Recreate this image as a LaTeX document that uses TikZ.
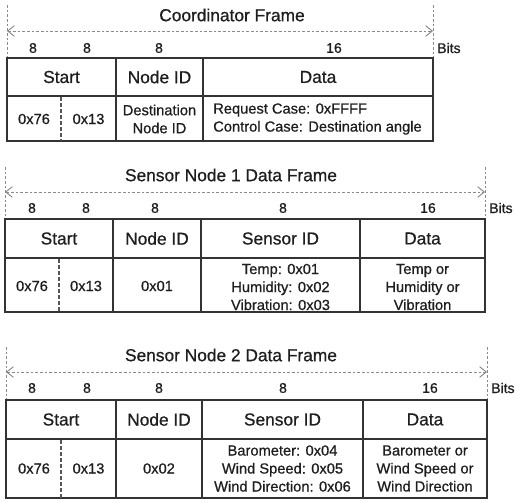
\documentclass[tikz,border=0pt]{standalone}
\usepackage{fontspec}
\setmainfont{Liberation Sans}[RawFeature={embolden=0.7}]
\usetikzlibrary{arrows.meta}
\definecolor{ln}{HTML}{333333}
\definecolor{tx}{HTML}{1E1E1E}
\definecolor{dsh}{HTML}{8A8A8A}
\definecolor{sep}{HTML}{555555}
\begin{document}
\begin{tikzpicture}[x=0.75pt,y=-0.75pt,
 cell/.style={draw=ln, line width=1.3pt},
 ttl/.style={font=\fontsize{13}{15}\selectfont, text=tx, inner sep=0},
 hdr/.style={font=\fontsize{13}{15}\selectfont, text=tx, inner sep=0},
 val/.style={font=\fontsize{11}{13.5}\selectfont, text=tx, align=center, inner sep=0},
 vall/.style={font=\fontsize{11}{13.5}\selectfont, text=tx, align=left, inner sep=0, anchor=west},
 bitn/.style={font=\fontsize{10.5}{12}\selectfont, text=tx, inner sep=0},
 bitl/.style={font=\fontsize{10.5}{12}\selectfont, text=tx, inner sep=0, anchor=west},
 guide/.style={draw=dsh, dash pattern=on 2pt off 1.5pt, line width=0.7pt},
 span/.style={guide, {Straight Barb[length=5pt,width=8pt]}-{Straight Barb[length=5pt,width=8pt]}},
 half/.style={draw=sep, dash pattern=on 3pt off 1.5pt, line width=1.1pt}]
\useasboundingbox (0,0) rectangle (515,503);

% ---------- Frame 1 ----------
\draw[guide] (7,5) -- (7,58);
\draw[guide] (433,5) -- (433,58);
\coordinate (f1l) at (7,31);
\coordinate (f1r) at (433,31);
\draw[span] (f1l) -- (f1r);
\node[ttl] (f1t) at (232,15) {Coordinator Frame};
\node[bitn] (f1b1) at (33,48) {8};
\node[bitn] (f1b2) at (87,48) {8};
\node[bitn] (f1b3) at (159,48) {8};
\node[bitn] (f1b4) at (334,48) {16};
\node[bitl] (f1bits) at (437,48) {Bits};
\draw[cell] (7,58) rectangle (433,141);
\draw[cell] (7,96) -- (433,96);
\draw[cell] (116,58) -- (116,141);
\draw[cell] (203,58) -- (203,141);
\draw[half] (61,97) -- (61,141);
\node[hdr] (f1h1) at (61.5,77) {Start};
\node[hdr] (f1h2) at (159.5,77) {Node ID};
\node[hdr] (f1h3) at (318,77) {Data};
\node[val] (f1v1) at (34,119) {0x76};
\node[val] (f1v2) at (88.5,119) {0x13};
\node[val] (f1v3) at (159.5,119) {Destination\\Node ID};
\node[vall] (f1v4) at (213,119) {Request Case: 0xFFFF\\Control Case: Destination angle};

% ---------- Frame 2 ----------
\draw[guide] (5,167) -- (5,219);
\draw[guide] (485,167) -- (485,219);
\coordinate (f2l) at (5,192);
\coordinate (f2r) at (485,192);
\draw[span] (f2l) -- (f2r);
\node[ttl] (f2t) at (231,175) {Sensor Node 1 Data Frame};
\node[bitn] (f2b1) at (32,208) {8};
\node[bitn] (f2b2) at (86,208) {8};
\node[bitn] (f2b3) at (155,208) {8};
\node[bitn] (f2b4) at (283,208) {8};
\node[bitn] (f2b5) at (428,208) {16};
\node[bitl] (f2bits) at (489,208) {Bits};
\draw[cell] (5,219) rectangle (485,312);
\draw[cell] (5,258) -- (485,258);
\draw[cell] (113,219) -- (113,312);
\draw[cell] (201,219) -- (201,312);
\draw[cell] (360,219) -- (360,312);
\draw[half] (59,259) -- (59,312);
\node[hdr] (f2h1) at (59,238.5) {Start};
\node[hdr] (f2h2) at (157,238.5) {Node ID};
\node[hdr] (f2h3) at (280.5,238.5) {Sensor ID};
\node[hdr] (f2h4) at (422.5,238.5) {Data};
\node[val] (f2v1) at (32,286) {0x76};
\node[val] (f2v2) at (86,286) {0x13};
\node[val] (f2v3) at (157,286) {0x01};
\node[val] (f2v4) at (280.5,287) {Temp: 0x01\\Humidity: 0x02\\Vibration: 0x03};
\node[val] (f2v5) at (422.5,287) {Temp or\\Humidity or\\Vibration};

% ---------- Frame 3 ----------
\draw[guide] (6,347) -- (6,400);
\draw[guide] (487,347) -- (487,400);
\coordinate (f3l) at (6,372);
\coordinate (f3r) at (487,372);
\draw[span] (f3l) -- (f3r);
\node[ttl] (f3t) at (231,355) {Sensor Node 2 Data Frame};
\node[bitn] (f3b1) at (32,388) {8};
\node[bitn] (f3b2) at (87,388) {8};
\node[bitn] (f3b3) at (159,388) {8};
\node[bitn] (f3b4) at (283,388) {8};
\node[bitn] (f3b5) at (430,388) {16};
\node[bitl] (f3bits) at (491,388) {Bits};
\draw[cell] (6,400) rectangle (487,498);
\draw[cell] (6,439) -- (487,439);
\draw[cell] (116,400) -- (116,498);
\draw[cell] (202,400) -- (202,498);
\draw[cell] (363,400) -- (363,498);
\draw[half] (61,440) -- (61,498);
\node[hdr] (f3h1) at (61,419.5) {Start};
\node[hdr] (f3h2) at (159,419.5) {Node ID};
\node[hdr] (f3h3) at (282.5,419.5) {Sensor ID};
\node[hdr] (f3h4) at (425,419.5) {Data};
\node[val] (f3v1) at (34,468.5) {0x76};
\node[val] (f3v2) at (88.5,468.5) {0x13};
\node[val] (f3v3) at (159,468.5) {0x02};
\node[val] (f3v4) at (282.5,468.5) {Barometer: 0x04\\Wind Speed: 0x05\\Wind Direction: 0x06};
\node[val] (f3v5) at (425,468.5) {Barometer or\\Wind Speed or\\Wind Direction};
\end{tikzpicture}
\end{document}
